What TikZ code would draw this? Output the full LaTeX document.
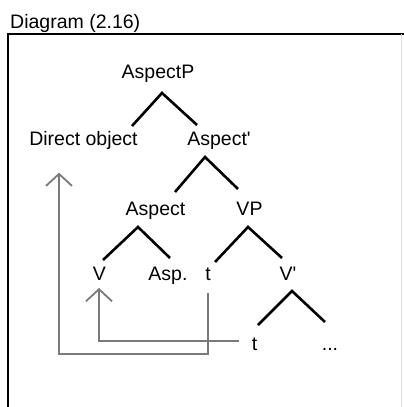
\documentclass[tikz,border=0pt]{standalone}
\usepackage{fontspec}
\setmainfont{Liberation Sans}
\usetikzlibrary{arrows.meta}
\definecolor{movegray}{HTML}{7A7A7A}
\tikzset{
  lbl/.style={anchor=base, inner sep=0pt, font=\fontsize{19.5}{22}\selectfont},
  branch/.style={line width=2.6pt, black, line cap=butt},
  move/.style={line width=1.8pt, movegray, -{Straight Barb[length=12pt,width=26pt,line width=1.8pt]}},
  frame/.style={line width=2pt, black}
}
\begin{document}
\begin{tikzpicture}[x=1pt,y=-1pt]
\useasboundingbox (0,0) rectangle (404,407);
\fill[white] (0,0) rectangle (404,407);
% frame
\draw[frame] (8,407) -- (8,33.5) -- (404,33.5);
\draw[line width=0.6pt, black!12] (401,34) -- (401,407);
% title
\node[lbl, anchor=base west] (title) at (10,28) {Diagram (2.16)};
% tree labels
\node[lbl] (aspP) at (158,78) {AspectP};
\node[lbl] (doj) at (83.5,145.7) {Direct object};
\node[lbl] (asp1) at (219,145.7) {Aspect\textquotesingle};
\node[lbl] (asp) at (155.5,215) {Aspect};
\node[lbl] (vp) at (249.5,215) {VP};
\node[lbl] (v) at (99.5,280) {V};
\node[lbl] (aspd) at (168,280) {Asp.};
\node[lbl] (t1) at (208,280) {t};
\node[lbl] (v1) at (288,280) {V\textquotesingle};
\node[lbl] (t2) at (254.5,350) {t};
\node[lbl] (dots) at (330,350) {...};
% branches
\draw[branch] ([shift={(48.5,-19.7)}]doj.base) -- ([shift={(4,15)}]aspP.base) -- ([shift={(-22,-20.7)}]asp1.base);
\draw[branch] ([shift={(19.5,-23)}]asp.base) -- ([shift={(-14,11.3)}]asp1.base) -- ([shift={(-11.5,-26)}]vp.base);
\draw[branch] ([shift={(3.5,-20)}]v.base) -- ([shift={(-17.5,12)}]asp.base) -- ([shift={(2,-22)}]aspd.base);
\draw[branch] ([shift={(7,-18)}]t1.base) -- ([shift={(-1.5,12)}]vp.base) -- ([shift={(-6,-22)}]v1.base);
\draw[branch] ([shift={(3.5,-25)}]t2.base) -- ([shift={(4,11)}]v1.base) -- ([shift={(-5,-28)}]dots.base);
% movement arrows
\draw[move] ([shift={(-15.5,-9)}]t2.base) -| ([shift={(-0.5,8)}]v.base);
\draw[move] ([shift={(0,13)}]t1.base) |- ([shift={(-24.5,208.3)}]doj.base) -- ([shift={(-24.5,27)}]doj.base);
\end{tikzpicture}
\end{document}
